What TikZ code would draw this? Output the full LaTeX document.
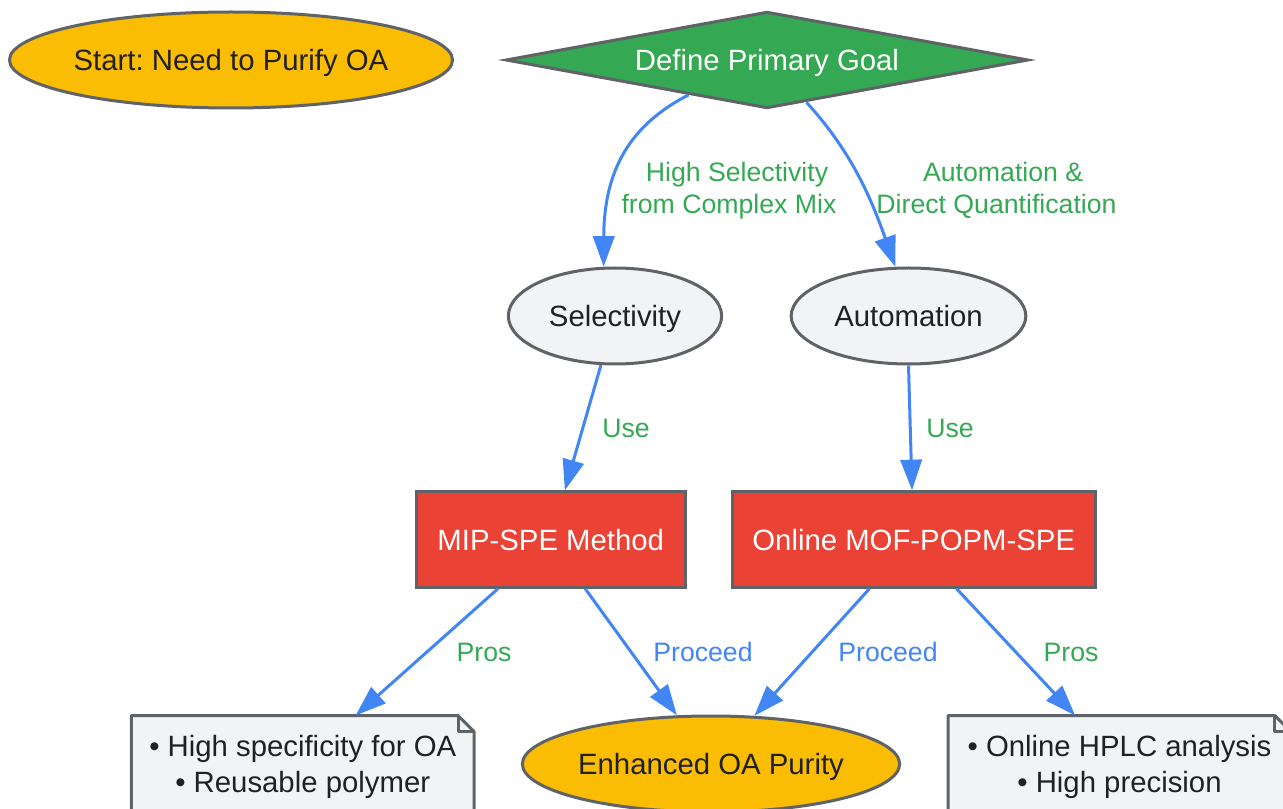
\documentclass[tikz,border=0pt]{standalone}
\usepackage{fontspec}
\setmainfont{Liberation Sans}
\usetikzlibrary{arrows.meta,shapes.geometric}

\definecolor{amber}{HTML}{FBBC04}
\definecolor{leaf}{HTML}{34A853}
\definecolor{brick}{HTML}{EA4335}
\definecolor{sky}{HTML}{4285F4}
\definecolor{mist}{HTML}{F1F3F4}
\definecolor{slate}{HTML}{5F6368}
\definecolor{ink}{HTML}{202124}

\tikzset{
  box/.style={draw=slate,line width=2.25pt,inner sep=0pt,font=\frenchspacing\fontsize{22}{27}\selectfont,text=ink},
  oneline/.style={text height=20.5pt,text depth=4.5pt},
  oval/.style={box,oneline,ellipse,minimum height=72pt},
  method/.style={box,oneline,rectangle,fill=brick,text=white,minimum height=71.5pt},
  notebox/.style={box,rectangle,draw=none,fill=mist,align=center,outer sep=0pt,minimum height=76.5pt,minimum width=257pt},
  noteline/.style={draw=slate,line width=2.25pt,line join=round},
  flow/.style={draw=sky,line width=2.25pt,-{Triangle[length=23pt,width=16pt]}},
  tag/.style={text=leaf,inner sep=0pt,align=center,font=\frenchspacing\fontsize{20}{24}\selectfont}
}

\newcommand{\notefold}[1]{
  \fill[white] ([xshift=-12pt]#1.north east) -- (#1.north east) -- ([yshift=-12pt]#1.north east) -- cycle;
  \draw[noteline] (#1.north west) -- ([xshift=-12pt]#1.north east) -- ([yshift=-12pt]#1.north east) -- (#1.south east) -- (#1.south west) -- cycle;
  \draw[noteline] ([xshift=-12pt]#1.north east) |- ([yshift=-12pt]#1.north east);
}

\begin{document}
\begin{tikzpicture}[x=0.75pt,y=-0.75pt]
  \useasboundingbox (0,0) rectangle (1283,809);

  \node[oval,fill=amber,inner xsep=-0.5pt] (start) at (231,60) {Start: Need to Purify OA};
  \node[box,oneline,diamond,fill=leaf,text=white,aspect=5.5,minimum width=392pt,minimum height=72.5pt] (goal) at (767,60) {Define Primary Goal};
  \node[oval,fill=mist,minimum width=160pt] (select) at (615,316) {Selectivity};
  \node[oval,fill=mist,minimum width=176pt] (auto) at (908.5,316) {Automation};
  \node[method,minimum width=201.5pt] (mip) at (550.75,539.5) {MIP-SPE Method};
  \node[method,minimum width=272pt] (online) at (913.75,539.5) {Online MOF-POPM-SPE};
  \node[oval,fill=amber,minimum width=283pt] (purity) at (711,764) {Enhanced OA Purity};
  \node[notebox] (mipnote) at (302.75,766.5) {• High specificity for OA\\• Reusable polymer};
  \node[notebox] (onlinenote) at (1119.5,766.5) {• Online HPLC analysis\\• High precision};
  \notefold{mipnote}
  \notefold{onlinenote}

  \draw[flow] (goal.204.5) .. controls (630,125) and (604,170) .. (select.103);
  \draw[flow] (goal.313.6) .. controls (850,150) and (870,195) .. (auto.105.5);
  \draw[flow] (select.254.5) -- (mip.74.5);
  \draw[flow] (auto.270.5) -- (online.92.4);
  \draw[flow] (mip.223.5) -- (mipnote.44.5);
  \draw[flow] (mip.305) -- (purity.125);
  \draw[flow] (online.228) -- (purity.48);
  \draw[flow] (online.311) -- (onlinenote.131.1);

  \node[tag] (selecttag) at (729,191) {\hspace*{12pt}High Selectivity\\from Complex Mix};
  \node[tag] (autotag) at (996.5,190) {\hspace*{10pt}Automation \&\\Direct Quantification};
  \node[tag,oneline] (usea) at (626,427) {Use};
  \node[tag,oneline] (useb) at (950,427) {Use};
  \node[tag,oneline] (prosa) at (484,651) {Pros};
  \node[tag,oneline,text=sky] (proceeda) at (703,651) {Proceed};
  \node[tag,oneline,text=sky] (proceedb) at (888,651) {Proceed};
  \node[tag,oneline] (prosb) at (1071,651) {Pros};
\end{tikzpicture}
\end{document}
